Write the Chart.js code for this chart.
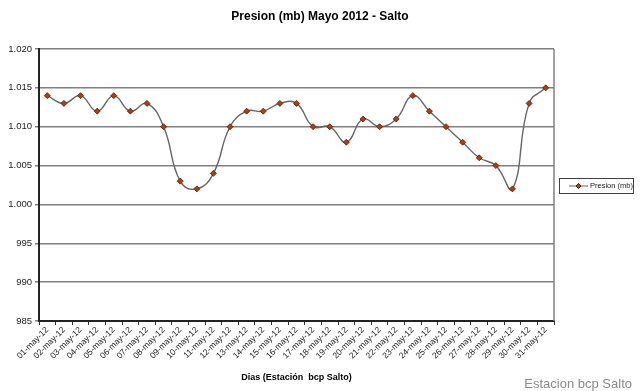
<!DOCTYPE html>
<html>
<head>
<meta charset="utf-8">
<style>
  html, body { margin: 0; padding: 0; background: #fff; }
  #wrap { width: 640px; height: 391px; position: relative; }
</style>
<script src="https://cdn.jsdelivr.net/npm/chart.js@4/dist/chart.umd.min.js"></script>
</head>
<body>
<div id="wrap"><canvas id="chart" width="640" height="391"></canvas></div>
<script>
// ── Data ──────────────────────────────────────────────────────────────────────
const days = [
  "01-may-12", "02-may-12", "03-may-12", "04-may-12", "05-may-12", "06-may-12",
  "07-may-12", "08-may-12", "09-may-12", "10-may-12", "11-may-12", "12-may-12",
  "13-may-12", "14-may-12", "15-may-12", "16-may-12", "17-may-12", "18-may-12",
  "19-may-12", "20-may-12", "21-may-12", "22-may-12", "23-may-12", "24-may-12",
  "25-may-12", "26-may-12", "27-may-12", "28-may-12", "29-may-12", "30-may-12",
  "31-may-12",
];
const presion = [
  1014, 1013, 1014, 1012, 1014, 1012, 1013, 1010, 1003, 1002, 1004, 1010,
  1012, 1012, 1013, 1013, 1010, 1010, 1008, 1011, 1010, 1011, 1014, 1012,
  1010, 1008, 1006, 1005, 1002, 1013, 1015,
];
const yMin = 985;
const yMax = 1020;
const yStep = 5;

const FONT = "'Liberation Sans', Arial, sans-serif";
const MARKER_FILL = "#b23c0a";
const MARKER_EDGE = "#5a1a00";
const LINE_COLOR = "#666";

// Excel-style number format: 1.020 / 995
function fmt(v) {
  if (v >= 1000) return Math.floor(v / 1000) + "." + String(v % 1000).padStart(3, "0");
  return String(v);
}

// ── Extras: title, plot border, legend box, watermark ────────────────────────
const extras = {
  id: "extras",
  afterDraw(chart) {
    const { ctx, chartArea: a } = chart;
    ctx.save();

    // title (centred on the whole canvas, not on the plot)
    ctx.fillStyle = "#000";
    ctx.font = "bold 12px " + FONT;
    ctx.textAlign = "center";
    ctx.textBaseline = "middle";
    ctx.fillText("Presion (mb) Mayo 2012 - Salto", 320, 17);

    // right border of plot
    ctx.strokeStyle = "#808080";
    ctx.lineWidth = 1.5;
    ctx.beginPath();
    ctx.moveTo(a.right, a.top);
    ctx.lineTo(a.right, a.bottom);
    ctx.stroke();

    // legend
    const lx = 559, ly = 178, lw = 74, lh = 15;
    ctx.strokeStyle = "#404040";
    ctx.lineWidth = 1;
    ctx.strokeRect(lx + 0.5, ly + 0.5, lw, lh);
    const cy = ly + lh / 2 + 0.5;
    ctx.strokeStyle = LINE_COLOR;
    ctx.beginPath();
    ctx.moveTo(lx + 10, cy);
    ctx.lineTo(lx + 29, cy);
    ctx.stroke();
    ctx.fillStyle = MARKER_FILL;
    ctx.strokeStyle = MARKER_EDGE;
    ctx.beginPath();
    ctx.moveTo(lx + 19.5, cy - 2.5);
    ctx.lineTo(lx + 22, cy);
    ctx.lineTo(lx + 19.5, cy + 2.5);
    ctx.lineTo(lx + 17, cy);
    ctx.closePath();
    ctx.fill();
    ctx.stroke();
    ctx.fillStyle = "#222";
    ctx.font = "7.5px " + FONT;
    ctx.textBaseline = "middle";
    ctx.textAlign = "left";
    ctx.fillText("Presion (mb)", lx + 31, cy);

    // watermark
    ctx.fillStyle = "#8a8a8a";
    ctx.font = "13px " + FONT;
    ctx.textAlign = "right";
    ctx.textBaseline = "alphabetic";
    ctx.fillText("Estacion bcp Salto", 632, 388);

    ctx.restore();
  },
};

// ── Chart ────────────────────────────────────────────────────────────────────
new Chart(document.getElementById("chart"), {
  type: "line",
  data: {
    labels: days,
    datasets: [{
      label: "Presion (mb)",
      data: presion,
      borderColor: LINE_COLOR,
      borderWidth: 1.4,
      tension: 0.45,
      pointStyle: "rectRot",
      pointRadius: 3,
      pointBackgroundColor: MARKER_FILL,
      pointBorderColor: MARKER_EDGE,
      pointBorderWidth: 0.8,
      fill: false,
    }],
  },
  options: {
    responsive: false,
    animation: false,
    layout: { padding: { top: 49, right: 86, left: 0, bottom: 0 } },
    plugins: {
      legend: { display: false },
      tooltip: { enabled: false },
      title: { display: false },
    },
    scales: {
      x: {
        offset: true,
        grid: {
          offset: true,
          drawOnChartArea: false,
          drawTicks: true,
          tickLength: 4,
          color: "#333",
          lineWidth: 1,
        },
        border: { color: "#222", width: 2 },
        ticks: {
          autoSkip: false,
          maxRotation: 45,
          minRotation: 45,
          color: "#222",
          padding: 0,
          font: { family: FONT, size: 8.5 },
        },
        title: {
          display: true,
          text: "Dias (Estación  bcp Salto)",
          color: "#000",
          font: { family: FONT, size: 9, weight: "bold" },
          padding: { top: 0, bottom: 8 },
        },
        afterFit(scale) { scale.height = 70; },
      },
      y: {
        min: yMin,
        max: yMax,
        grid: {
          color: "#808080",
          lineWidth: 1.5,
          tickLength: 4,
        },
        border: { color: "#222", width: 2 },
        ticks: {
          stepSize: yStep,
          color: "#222",
          padding: 3,
          font: { family: FONT, size: 9.5 },
          callback: (v) => fmt(v),
        },
        afterFit(scale) { scale.width = 39; },
      },
    },
  },
  plugins: [extras],
});
</script>
</body>
</html>
